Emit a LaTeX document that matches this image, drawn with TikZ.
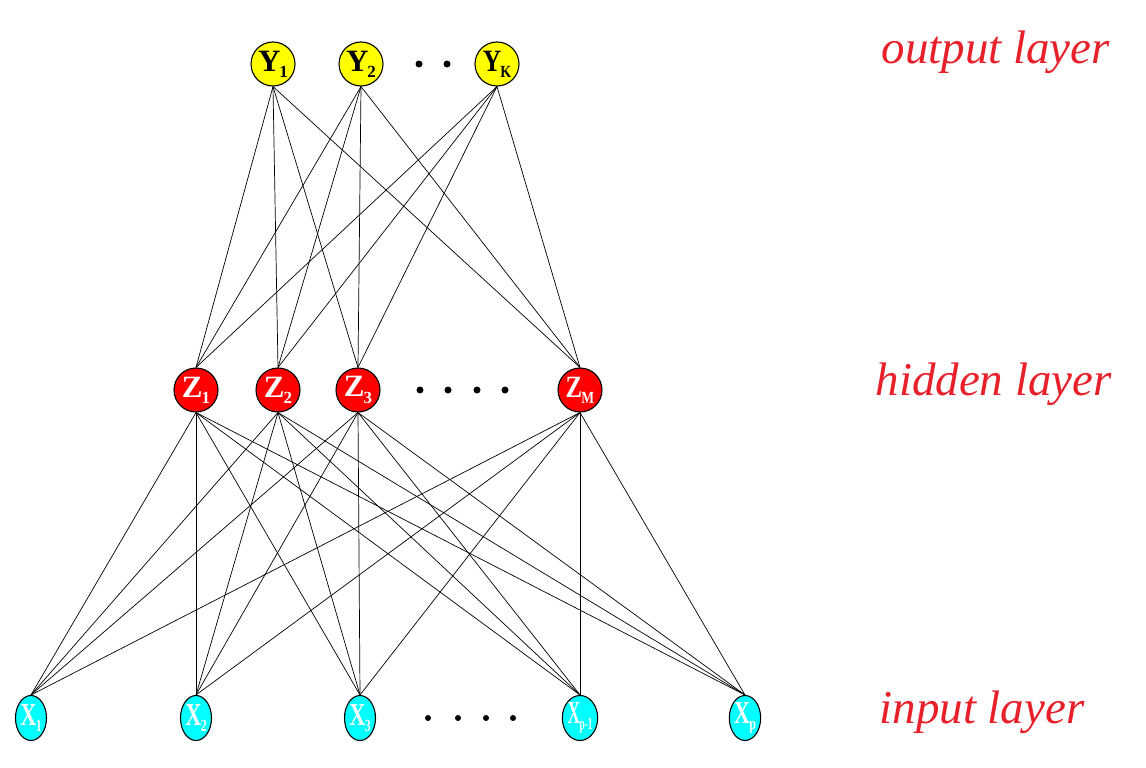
\documentclass[tikz,border=0pt]{standalone}
\usepackage{fontspec}
\setmainfont{Liberation Serif}
\usetikzlibrary{shapes.geometric}
\definecolor{hand}{RGB}{232,32,42}
\definecolor{ycol}{RGB}{255,255,0}
\definecolor{zcol}{RGB}{255,0,0}
\definecolor{xcol}{RGB}{0,255,255}
\newcommand{\lab}[2]{#1\kern-0.03em\raisebox{-0.2em}{\fontsize{17}{17}\selectfont #2}}
\newcommand{\xlab}[2]{\scalebox{0.7}[1]{#1\kern-0.03em\raisebox{-0.2em}{\fontsize{17}{17}\selectfont #2}}}
\begin{document}
\begin{tikzpicture}[x=1pt,y=-1pt,
  unit/.style={circle,draw=black,line width=1.1pt,minimum size=44pt,inner sep=0pt,font=\bfseries\fontsize{31}{31}\selectfont},
  yunit/.style={unit,fill=ycol,text=black},
  zunit/.style={unit,fill=zcol,text=white},
  xunit/.style={ellipse,draw=black,line width=1.1pt,minimum width=31pt,minimum height=45pt,inner sep=0pt,fill=xcol,text=white,font=\bfseries\fontsize{32}{32}\selectfont},
  edge/.style={draw=black,line width=0.7pt},
  dot/.style={circle,fill=black,inner sep=0pt,minimum size=7pt},
  hand/.style={text=hand,font=\itshape\fontsize{47}{47}\selectfont,anchor=west}]
\useasboundingbox (0,0) rectangle (1146,768);
% output layer
\node[yunit] (y1) at (273,64) {\lab{Y}{1}};
\node[yunit] (y2) at (361,64) {\lab{Y}{2}};
\node[yunit] (yk) at (497,64) {\scalebox{0.82}[1]{\lab{Y}{K}}};
\node[dot] (yd1) at (419,64) {};
\node[dot] (yd2) at (447,64) {};
% hidden layer
\node[zunit] (z1) at (196,390) {\lab{Z}{1}};
\node[zunit] (z2) at (278,390) {\lab{Z}{2}};
\node[zunit] (z3) at (358,390) {\lab{Z}{3}};
\node[zunit] (zm) at (580,390) {\scalebox{0.8}[1]{\lab{Z}{M}}};
\node[dot] (zd1) at (420,390) {};
\node[dot] (zd2) at (448,390) {};
\node[dot] (zd3) at (477,390) {};
\node[dot] (zd4) at (505,390) {};
% input layer
\node[xunit] (x1) at (31,718) {\xlab{X}{1}};
\node[xunit] (x2) at (196,718) {\xlab{X}{2}};
\node[xunit] (x3) at (360,718) {\xlab{X}{3}};
\node[xunit] (xp1) at (580,718) {\scalebox{0.78}[1]{\xlab{X}{p-1}}};
\node[xunit] (xp) at (745,718) {\xlab{X}{p}};
\node[dot,minimum size=6pt] (xd1) at (428,718) {};
\node[dot,minimum size=6pt] (xd2) at (458,718) {};
\node[dot,minimum size=6pt] (xd3) at (486,718) {};
\node[dot,minimum size=6pt] (xd4) at (513,718) {};
% connections
\foreach \y in {y1,y2,yk}{
  \foreach \z in {z1,z2,z3,zm}{
    \draw[edge] (\y.south) -- (\z.north);
  }
}
\foreach \z in {z1,z2,z3,zm}{
  \foreach \x in {x1,x2,x3,xp1,xp}{
    \draw[edge] (\z.south) -- (\x.north);
  }
}
% layer labels
\node[hand] (lo) at (878,52) {output layer};
\node[hand] (lh) at (872,384) {hidden layer};
\node[hand] (li) at (876,712) {input layer};
\end{tikzpicture}
\end{document}
